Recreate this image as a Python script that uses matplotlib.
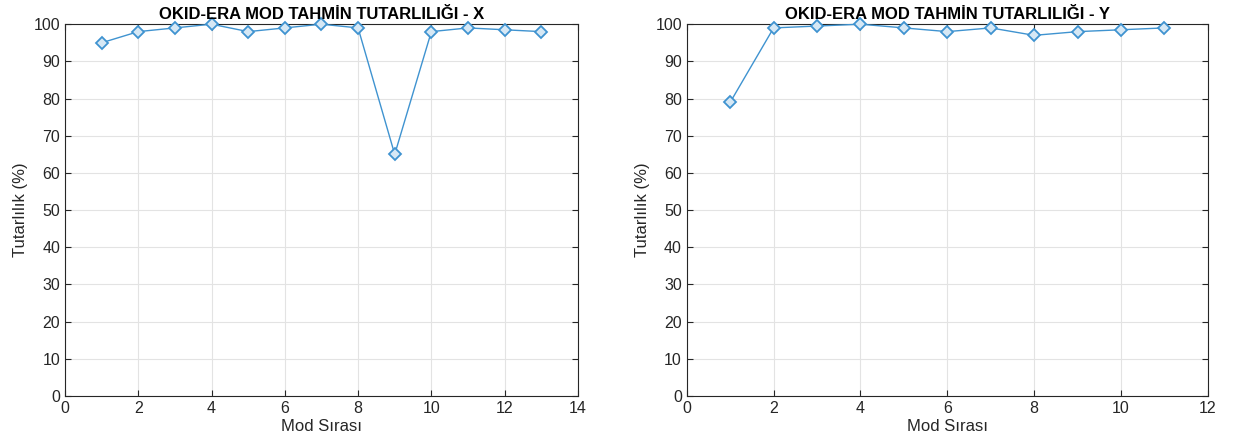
import numpy as np
import matplotlib
matplotlib.use("Agg")
import matplotlib.pyplot as plt

plt.rcParams["font.family"] = ["Liberation Sans", "DejaVu Sans"]

# Mod tutarlılık değerleri (%)
mod_x = [1, 2, 3, 4, 5, 6, 7, 8, 9, 10, 11, 12, 13]
tut_x = [95, 98, 99, 100, 98, 99, 100, 99, 65, 98, 99, 98.5, 98]

mod_y = [1, 2, 3, 4, 5, 6, 7, 8, 9, 10, 11]
tut_y = [79, 99, 99.5, 100, 99, 98, 99, 97, 98, 98.5, 99]

line_color = "#3f93d0"

fig = plt.figure(figsize=(12.33, 4.48), dpi=100)
ax1 = fig.add_axes([0.0527, 0.116, 0.416, 0.830])
ax2 = fig.add_axes([0.557, 0.116, 0.4226, 0.830])

panels = [
    (ax1, mod_x, tut_x, 14, "OKID-ERA MOD TAHMİN TUTARLILIĞI - X"),
    (ax2, mod_y, tut_y, 12, "OKID-ERA MOD TAHMİN TUTARLILIĞI - Y"),
]

for ax, xs, ys, xmax, title in panels:
    ax.plot(xs, ys, "-D", color=line_color, lw=1.0, markersize=6.5,
            markerfacecolor="#d6e8f5", markeredgecolor=line_color,
            markeredgewidth=1.3, clip_on=False, zorder=3)
    ax.set_xlim(0, xmax)
    ax.set_ylim(0, 100)
    ax.set_xticks(np.arange(0, xmax + 1, 2))
    ax.set_yticks(np.arange(0, 101, 10))
    ax.grid(True, color="#e3e3e3", lw=0.8)
    ax.set_axisbelow(True)
    ax.tick_params(direction="in", top=True, right=True, length=4,
                   labelsize=11.5, colors="#262626")
    for sp in ax.spines.values():
        sp.set_color("#262626")
        sp.set_linewidth(0.8)
    ax.set_xlabel("Mod Sırası", fontsize=12, color="#262626", labelpad=2)
    ax.set_ylabel("Tutarlılık (%)", fontsize=12, color="#262626", labelpad=4)
    ax.set_title(title, fontsize=12, fontweight="bold", pad=4)

fig.savefig("out.png", dpi=100)
